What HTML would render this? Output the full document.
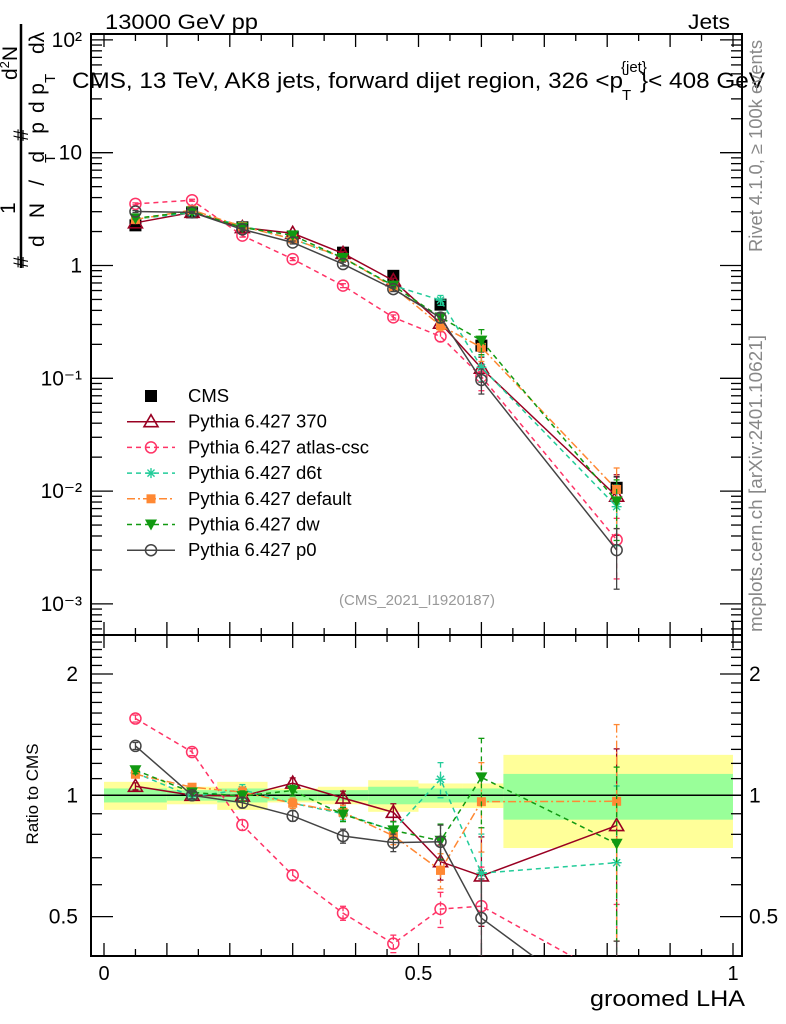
<!DOCTYPE html>
<html><head><meta charset="utf-8"><style>
html,body{margin:0;padding:0;background:#fff;overflow:hidden;width:786px;height:1024px;}
svg{display:block;font-family:"Liberation Sans",sans-serif;}
</style></head><body>
<svg id="c" width="786" height="1024" viewBox="0 0 786 1024" xmlns="http://www.w3.org/2000/svg">
<defs>
<clipPath id="clipMain"><rect x="91" y="34" width="651" height="601"/></clipPath>
<clipPath id="clipRatio"><rect x="91" y="635" width="651" height="321"/></clipPath>
</defs>
<text x="105" y="29" font-size="21" textLength="153" lengthAdjust="spacingAndGlyphs">13000 GeV pp</text>
<text x="688" y="29" font-size="21" textLength="42" lengthAdjust="spacingAndGlyphs">Jets</text>
<g id="bands" clip-path="url(#clipRatio)"></g>
<g id="axes"></g>
<g id="mainMarks" clip-path="url(#clipMain)"></g>
<g id="ratioMarks" clip-path="url(#clipRatio)"></g>
<g>
<text x="72" y="88" font-size="22" textLength="551" lengthAdjust="spacingAndGlyphs">CMS, 13 TeV, AK8 jets, forward dijet region, 326 &lt;p</text>
<text x="621" y="72" font-size="15">{jet}</text>
<text x="622" y="100" font-size="15">T</text>
<text x="640" y="88" font-size="22" textLength="125" lengthAdjust="spacingAndGlyphs">}&lt; 408 GeV</text>
</g>
<text x="417" y="605" font-size="15" fill="#999" text-anchor="middle">(CMS_2021_I1920187)</text>
<text transform="translate(762,252) rotate(-90)" font-size="18" fill="#888" textLength="212" lengthAdjust="spacingAndGlyphs">Rivet 4.1.0, ≥ 100k events</text>
<text transform="translate(762,632) rotate(-90)" font-size="18" fill="#888" textLength="297" lengthAdjust="spacingAndGlyphs">mcplots.cern.ch [arXiv:2401.10621]</text>
<g font-size="21">
<line x1="21" y1="268" x2="21" y2="24" stroke="#000" stroke-width="2.5"/>
<text transform="translate(28,268) rotate(-90)">#</text>
<text transform="translate(15,214) rotate(-90)">1</text>
<text transform="translate(44,247) rotate(-90)" textLength="125" lengthAdjust="spacing">d N / d p</text>
<text transform="translate(55,163) rotate(-90)" font-size="15">T</text>
<text transform="translate(28,141) rotate(-90)">#</text>
<text transform="translate(17,80) rotate(-90)">d<tspan font-size="13" dy="-8">2</tspan><tspan dy="8">N</tspan></text>
<text transform="translate(44,113) rotate(-90)" textLength="30" lengthAdjust="spacing">d p</text>
<text transform="translate(55,83) rotate(-90)" font-size="15">T</text>
<text transform="translate(44,54) rotate(-90)">dλ</text>
</g>
<text transform="translate(38,794) rotate(-90)" font-size="17" text-anchor="middle">Ratio to CMS</text>
<text x="590" y="1006" font-size="22" textLength="155" lengthAdjust="spacingAndGlyphs">groomed LHA</text>
<g id="legend"></g>
</svg>
<script>
const xCenters=[0.05,0.14,0.22,0.30,0.38,0.46,0.535,0.60,0.815];
const cmsValues=[2.27,2.96,2.18,1.80,1.30,0.81,0.45,0.195,0.0107];
const cmsErr=[0.03,0.02,0.03,0.03,0.04,0.05,0.08,0.12,0.25];
const v370=[2.39,2.96,2.17,1.93,1.28,0.735,0.308,0.123,0.0090];
const vAtlas=[3.52,3.79,1.84,1.14,0.663,0.347,0.235,0.1035,0.0037];
const vD6t=[2.58,2.94,2.25,1.72,1.17,0.663,0.493,0.125,0.00728];
const vDefault=[2.56,3.10,2.22,1.72,1.18,0.643,0.293,0.188,0.01034];
const vDw=[2.62,3.01,2.17,1.85,1.165,0.663,0.347,0.216,0.00811];
const vP0=[3.01,2.96,2.09,1.60,1.03,0.618,0.345,0.0967,0.0030];
const mcRelErr=[0.02,0.02,0.03,0.03,0.04,0.05,0.10,0.25,0.55];
const binEdges=[0,0.1,0.18,0.26,0.34,0.42,0.5,0.57,0.635,1.0];
const bandTotal=[0.08,0.05,0.08,0.04,0.05,0.09,0.07,0.07,0.26];
const bandStat=[0.04,0.03,0.04,0.03,0.03,0.05,0.04,0.04,0.13];
const mainTickLabels=["10²","10","1","10⁻¹","10⁻²","10⁻³"];
const mainTickExp=[2,1,0,-1,-2,-3];
const ratioTicks=[2,1,0.5];
const xTickLabels=["0","0.5","1"];
const xTickVals=[0,0.5,1];

const NS="http://www.w3.org/2000/svg";
const X0=91,X1=742,YT=34,YM=635,YB=956;
function sx(v){return 104+629*v;}
function sy(v){return 265.5-112.8*Math.log10(v);}
function ry(r){return 795.3-403*Math.log10(r);}
function mk(tag,attrs,parent){const e=document.createElementNS(NS,tag);for(const k in attrs)e.setAttribute(k,attrs[k]);parent.appendChild(e);return e;}

const axes=document.getElementById('axes');
let f1=mk('rect',{x:X0,y:YT,width:X1-X0,height:YM-YT,fill:'none',stroke:'#000','stroke-width':2},axes);


let f2=mk('rect',{x:X0,y:YM,width:X1-X0,height:YB-YM,fill:'none',stroke:'#000','stroke-width':2},axes);


for(let i=0;i<=20;i++){
  const v=i*0.05,x=sx(v),L=(i%2==0)?13:7;
  if(x>X1)continue;
  [[YT,1],[YM,-1],[YM,1],[YB,-1]].forEach(([y,d])=>{mk('line',{x1:x,y1:y,x2:x,y2:y+d*L,stroke:'#000','stroke-width':1.3},axes);});
}
xTickVals.forEach((v,i)=>{const t=mk('text',{x:sx(v),y:980,'font-size':20,'text-anchor':'middle'},axes);t.textContent=xTickLabels[i];

});
for(let e=-4;e<=2;e++){
  for(let m=1;m<10;m++){
    const v=m*Math.pow(10,e),y=sy(v);
    if(y<YT||y>YM)continue;
    const L=m==1?22:11;
    mk('line',{x1:X0,y1:y,x2:X0+L,y2:y,stroke:'#000','stroke-width':1.3},axes);
    mk('line',{x1:X1,y1:y,x2:X1-L,y2:y,stroke:'#000','stroke-width':1.3},axes);
  }
}
mainTickExp.forEach((e,i)=>{const t=mk('text',{x:82,y:sy(Math.pow(10,e))+7,'font-size':21,'text-anchor':'end'},axes);t.textContent=mainTickLabels[i];

});
const rMinor=[0.4,0.5,0.6,0.7,0.8,0.9,1,1.1,1.2,1.3,1.4,1.5,1.6,1.7,1.8,1.9,2,2.1,2.2,2.3,2.4,2.5];
rMinor.forEach(r=>{const y=ry(r);if(y<YM||y>YB)return;const L=(r==0.5||r==1||r==2)?22:11;
mk('line',{x1:X0,y1:y,x2:X0+L,y2:y,stroke:'#000','stroke-width':1.3},axes);
mk('line',{x1:X1,y1:y,x2:X1-L,y2:y,stroke:'#000','stroke-width':1.3},axes);});
ratioTicks.forEach(r=>{
  const t=mk('text',{x:78,y:ry(r)+7,'font-size':21,'text-anchor':'end'},axes);t.textContent=String(r);
  
  
  const t2=mk('text',{x:749,y:ry(r)+7,'font-size':21},axes);t2.textContent=String(r);
  
  
});

const bands=document.getElementById('bands');
for(let i=0;i<binEdges.length-1;i++){
  const xa=sx(binEdges[i]),xb=sx(binEdges[i+1]);
  const b1=mk('rect',{x:xa,y:ry(1+bandTotal[i]),width:xb-xa,height:ry(1-bandTotal[i])-ry(1+bandTotal[i]),fill:'#ffff99'},bands);
  
  
  const b2=mk('rect',{x:xa,y:ry(1+bandStat[i]),width:xb-xa,height:ry(1-bandStat[i])-ry(1+bandStat[i]),fill:'#99ff99'},bands);
  
  
}
let l1=mk('line',{x1:X0,y1:ry(1),x2:X1,y2:ry(1),stroke:'#000','stroke-width':1.5},bands);



const series=[
 {name:'Pythia 6.427 370',vals:v370,color:'#990022',dash:'',marker:'tri'},
 {name:'Pythia 6.427 atlas-csc',vals:vAtlas,color:'#ff3366',dash:'5,4',marker:'circ'},
 {name:'Pythia 6.427 d6t',vals:vD6t,color:'#22cc99',dash:'5,4',marker:'star'},
 {name:'Pythia 6.427 default',vals:vDefault,color:'#ff8833',dash:'8,3,2,3',marker:'sq'},
 {name:'Pythia 6.427 dw',vals:vDw,color:'#119911',dash:'5,4',marker:'tridown'},
 {name:'Pythia 6.427 p0',vals:vP0,color:'#444444',dash:'',marker:'circ'}
];
function marker(g,type,x,y,c){
  if(type=='tri') mk('polygon',{points:`${x},${y-7} ${x-7},${y+5} ${x+7},${y+5}`,fill:'#fff','fill-opacity':0,stroke:c,'stroke-width':1.6},g);
  else if(type=='circ') mk('circle',{cx:x,cy:y,r:5.5,fill:'none',stroke:c,'stroke-width':1.5},g);
  else if(type=='sq') mk('rect',{x:x-4.5,y:y-4.5,width:9,height:9,fill:c},g);
  else if(type=='tridown') mk('polygon',{points:`${x-6},${y-5} ${x+6},${y-5} ${x},${y+6}`,fill:c},g);
  else if(type=='star'){[0,45,90,135].forEach(a=>{const r=a*Math.PI/180,dx=5*Math.cos(r),dy=5*Math.sin(r);mk('line',{x1:x-dx,y1:y-dy,x2:x+dx,y2:y+dy,stroke:c,'stroke-width':1.4},g);});}
  else if(type=='cms') mk('rect',{x:x-6,y:y-6,width:12,height:12,fill:'#000'},g);
}
function errbar(g,x,y1,y2,c,dash){mk('line',{x1:x,y1:y1,x2:x,y2:y2,stroke:c,'stroke-width':1.3,'stroke-dasharray':dash||''},g);
mk('line',{x1:x-3,y1:y1,x2:x+3,y2:y1,stroke:c,'stroke-width':1.3},g);mk('line',{x1:x-3,y1:y2,x2:x+3,y2:y2,stroke:c,'stroke-width':1.3},g);}

const mainG=document.getElementById('mainMarks');
const ratioG=document.getElementById('ratioMarks');
const cmsG=mk('g',{},mainG);


xCenters.forEach((v,i)=>{const x=sx(v),y=sy(cmsValues[i]);errbar(cmsG,x,sy(cmsValues[i]*(1+cmsErr[i])),sy(cmsValues[i]*(1-cmsErr[i])),'#000');marker(cmsG,'cms',x,y,'#000');});
series.forEach((s,si)=>{
  const g=mk('g',{},mainG);
  
  
  const pts=xCenters.map((v,i)=>sx(v)+','+sy(s.vals[i])).join(' ');
  mk('polyline',{points:pts,fill:'none',stroke:s.color,'stroke-width':1.5,'stroke-dasharray':s.dash},g);
  xCenters.forEach((v,i)=>{const val=s.vals[i],e=mcRelErr[i];errbar(g,sx(v),sy(val*(1+e)),sy(Math.max(val*(1-e),1e-6)),s.color,s.dash);marker(g,s.marker,sx(v),sy(val),s.color);});
  const rg=mk('g',{},ratioG);
  
  
  const rat=s.vals.map((v,i)=>v/cmsValues[i]);
  mk('polyline',{points:xCenters.map((v,i)=>sx(v)+','+ry(rat[i])).join(' '),fill:'none',stroke:s.color,'stroke-width':1.5,'stroke-dasharray':s.dash},rg);
  xCenters.forEach((v,i)=>{const r=rat[i],e=mcRelErr[i];errbar(rg,sx(v),ry(r*(1+e)),ry(Math.max(r*(1-e),1e-3)),s.color,s.dash);marker(rg,s.marker,sx(v),ry(r),s.color);});
});
const lg=document.getElementById('legend');
const ly0=396,ldy=25.7;
let le=mk('g',{},lg);


marker(le,'cms',151,ly0,'#000');
let lt=mk('text',{x:188,y:ly0+6,'font-size':18.5},le);lt.textContent='CMS';
series.forEach((s,i)=>{
  const y=ly0+ldy*(i+1);
  const e=mk('g',{},lg);
  
  
  mk('line',{x1:127,y1:y,x2:175,y2:y,stroke:s.color,'stroke-width':1.5,'stroke-dasharray':s.dash},e);
  marker(e,s.marker,151,y,s.color);
  const t=mk('text',{x:188,y:y+6,'font-size':18.5},e);t.textContent=s.name;
});
</script>
</body></html>
